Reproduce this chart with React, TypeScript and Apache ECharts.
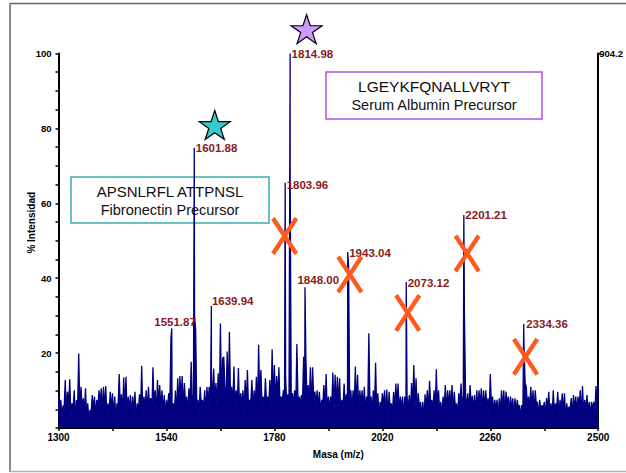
import React, { useEffect, useRef } from "react";
import * as echarts from "echarts";

// m/z range of the spectrum and the spacing of the profile samples
const MZ_MIN = 1300;
const MZ_MAX = 2500;
const SAMPLE_STEP = 5;

// Profile maxima at 1300, 1305, ... 2500 (% intensity)
const PROFILE_TOPS = [
  8.4, 7.5, 6.0, 12.8, 9.7, 13.0, 6.6, 10.1, 7.5, 19.9,
  11.0, 7.9, 10.6, 6.6, 4.8, 8.8, 8.4, 7.5, 10.1, 10.6,
  11.0, 11.2, 6.6, 9.7, 9.3, 8.4, 6.6, 14.4, 9.0, 13.5,
  13.7, 8.4, 8.8, 8.4, 9.7, 6.6, 9.0, 16.6, 8.4, 10.1,
  11.0, 8.0, 16.2, 10.1, 12.8, 11.5, 10.1, 8.8, 7.5, 9.3,
  24.0, 6.6, 10.0, 13.3, 13.9, 13.9, 12.0, 8.4, 10.6, 17.7,
  9.0, 26.0, 7.5, 11.0, 7.5, 10.1, 11.0, 11.0, 15.5, 15.9,
  12.0, 14.6, 27.9, 18.6, 11.0, 20.4, 25.7, 11.0, 16.4, 10.1,
  16.0, 9.3, 10.1, 12.8, 15.5, 7.5, 12.8, 10.1, 13.7, 22.2,
  15.5, 8.4, 13.3, 8.4, 12.8, 21.0, 16.8, 13.9, 16.2, 8.4,
  10.1, 13.7, 9.0, 69.0, 9.3, 10.1, 22.4, 8.4, 8.8, 19.0,
  19.2, 11.5, 16.2, 16.2, 9.7, 10.1, 9.7, 7.5, 11.5, 14.4,
  8.4, 8.4, 14.8, 14.2, 13.7, 13.3, 7.5, 11.9, 9.0, 43.0,
  10.1, 10.1, 16.4, 14.2, 10.1, 10.1, 11.0, 8.4, 25.3, 8.4,
  10.1, 17.4, 9.3, 7.0, 9.3, 10.1, 10.3, 9.7, 6.6, 9.7,
  11.9, 11.9, 8.4, 8.4, 8.4, 8.4, 8.8, 12.0, 16.8, 13.3,
  9.3, 7.0, 7.0, 9.0, 10.1, 12.6, 7.5, 10.1, 15.7, 10.1,
  7.0, 8.4, 11.5, 10.1, 10.1, 11.5, 9.7, 6.6, 9.3, 11.9,
  9.0, 9.3, 9.3, 11.5, 8.6, 8.8, 10.1, 10.1, 10.6, 10.1,
  10.1, 8.0, 14.4, 8.4, 7.5, 7.5, 7.9, 10.1, 10.1, 9.7,
  8.4, 8.4, 7.9, 7.9, 7.5, 6.1, 6.1, 22.0, 11.0, 8.4,
  11.0, 10.1, 10.1, 7.0, 7.5, 6.1, 7.0, 8.0, 9.7, 6.6,
  10.1, 6.6, 9.7, 7.5, 9.3, 9.3, 6.6, 5.7, 8.0, 8.8,
  8.4, 8.4, 10.1, 11.2, 7.5, 8.8, 7.0, 7.0, 7.0, 11.2,
  11.2,
];

// Profile minima at 1302.5, 1307.5, ... 2497.5 (% intensity)
const PROFILE_FLOORS = [
  4, 3, 5, 4, 6, 3, 5, 2, 6, 4,
  5, 4, 3, 2, 4, 5, 3, 5, 6, 4,
  5, 3, 4, 5, 3, 2, 6, 5, 4, 5,
  4, 5, 3, 4, 2, 4, 5, 3, 5, 4,
  6, 4, 5, 3, 6, 5, 4, 3, 5, 6,
  5, 4, 3, 6, 7, 5, 6, 4, 6, 5,
  30, 5, 4, 6, 5, 4, 6, 3, 6, 7,
  6, 5, 7, 19, 6, 7, 8, 6, 5, 6,
  5, 6, 4, 6, 5, 7, 4, 6, 5, 7,
  6, 5, 7, 6, 5, 7, 6, 8, 6, 7,
  8, 6, 8, 7, 6, 5, 7, 6, 7, 9,
  7, 6, 5, 7, 6, 5, 4, 6, 5, 4,
  5, 6, 4, 5, 6, 3, 5, 6, 6, 5,
  4, 6, 5, 4, 6, 5, 4, 5, 6, 4,
  5, 4, 3, 5, 6, 4, 2, 5, 4, 5,
  6, 4, 5, 3, 5, 5, 4, 6, 5, 4,
  5, 3, 2, 5, 4, 6, 5, 4, 5, 4,
  3, 5, 4, 6, 5, 4, 5, 3, 6, 5,
  31, 5, 4, 6, 5, 4, 5, 6, 4, 5,
  5, 3, 6, 4, 5, 3, 4, 5, 4, 6,
  4, 5, 3, 4, 5, 3, 5, 12, 6, 5,
  5, 4, 6, 3, 4, 5, 3, 5, 4, 3,
  4, 5, 3, 5, 4, 2, 4, 5, 3, 5,
  4, 5, 3, 4, 5, 4, 3, 5, 4, 6,
];

// Annotated peaks
const PEAK_MZ = [1551.87, 1601.88, 1639.94, 1803.96, 1814.98, 1848.0, 1943.04, 2073.12, 2201.21, 2334.36];
const PEAK_INTENSITY = [26.6, 74.8, 32.6, 65.5, 100, 37.6, 47.0, 39.0, 56.9, 27.8];

// Axis ticks and labels
const X_TICKS = [1300, 1420, 1540, 1660, 1780, 1900, 2020, 2140, 2260, 2380, 2500];
const X_LABELS = [1300, 1540, 1780, 2020, 2260, 2500];
const ABSOLUTE_MAX = 904.2;

// Markers: identified precursor peaks (stars) and rejected peaks (crosses)
const STAR_POINTS = [
  [1647.4, 80.9],
  [1851.6, 106.5],
];
const CROSS_POINTS = [
  [1802.8, 51.3],
  [1947.7, 41.0],
  [2076.5, 30.7],
  [2208.5, 46.6],
  [2338.4, 19.0],
];

// Peak label placement (px) relative to each peak apex
const LABEL_OFFSETS = [
  [-19, -6], [0, 0], [-1, -5], [0, 2], [0, 0], [-9, -7], [0, 1], [0, 1], [0, 0], [1, 0],
];

const STAR_COLORS = ["#33cccc", "#cc99ff"];
const NAVY = "#000080";
const PEAK_RED = "#8b1a1a";
const CROSS_RED = "#ff5a1e";
const FONT = "'Liberation Sans', Arial, sans-serif";

const STAR_PATH =
  "path://M50,0 L61.23,34.55 L97.55,34.55 L68.17,55.9 L79.39,90.45 L50,69.1 L20.61,90.45 L31.83,55.9 L2.45,34.55 L38.77,34.55 Z";
const CROSS_PATH =
  "path://M0,2.5 L3.5,0 L26,35.5 L22.5,38 Z M22.5,0 L26,2.5 L3.5,38 L0,35.5 Z";

export default function App() {
  const ref = useRef<HTMLDivElement>(null);

  useEffect(() => {
    if (!ref.current) return;
    const chart = echarts.init(ref.current, undefined, { renderer: "svg" });

    const spectrum: number[][] = [];
    PROFILE_TOPS.forEach((v, i) => spectrum.push([MZ_MIN + i * SAMPLE_STEP, v]));
    PROFILE_FLOORS.forEach((v, i) => spectrum.push([MZ_MIN + (i + 0.5) * SAMPLE_STEP, v]));
    PEAK_MZ.forEach((m, i) => spectrum.push([m, PEAK_INTENSITY[i]]));
    spectrum.sort((a, b) => a[0] - b[0]);

    const option: any = {
      animation: false,
      textStyle: { fontFamily: FONT },
      grid: { left: 58.5, right: 27, top: 53.5, bottom: 45 },
      xAxis: {
        type: "value",
        min: MZ_MIN,
        max: MZ_MAX,
        splitLine: { show: false },
        axisLine: { lineStyle: { color: "#000", width: 2 } },
        axisTick: {
          customValues: X_TICKS,
          length: 3,
          lineStyle: { color: "#000", width: 1.5 },
        },
        axisLabel: {
          customValues: X_LABELS,
          formatter: (v: number) => String(v),
          color: "#000",
          fontWeight: "bold",
          fontSize: 10,
          fontFamily: FONT,
          margin: 4,
        },
        name: "Masa (m/z)",
        nameLocation: "middle",
        nameGap: 21,
        nameMoveOverlap: false,
        nameTextStyle: {
          color: "#000",
          fontWeight: "bold",
          fontSize: 10,
          fontFamily: FONT,
          padding: [0, 0, 0, 20],
        },
      },
      yAxis: [
        {
          type: "value",
          min: 0,
          max: 100,
          interval: 20,
          position: "left",
          splitLine: { show: false },
          axisLine: { show: true, lineStyle: { color: "#000", width: 2 } },
          axisTick: { show: true, length: 3, lineStyle: { color: "#000", width: 1.5 } },
          minorTick: { show: true, splitNumber: 4, length: 3, lineStyle: { color: "#000", width: 1.5 } },
          axisLabel: {
            showMinLabel: false,
            color: "#000",
            fontWeight: "bold",
            fontSize: 9.5,
            fontFamily: FONT,
            margin: 7,
          },
          name: "% Intensidad",
          nameLocation: "middle",
          nameRotate: 90,
          nameGap: 22,
          nameMoveOverlap: false,
          nameTextStyle: {
            color: "#000",
            fontWeight: "bold",
            fontSize: 10,
            fontFamily: FONT,
            padding: [0, 0, 0, 36],
          },
        },
        {
          type: "value",
          min: 0,
          max: ABSOLUTE_MAX,
          position: "right",
          splitLine: { show: false },
          axisLine: { show: true, lineStyle: { color: "#000", width: 2 } },
          axisTick: {
            show: true,
            customValues: [ABSOLUTE_MAX],
            length: 2,
            lineStyle: { color: "#000", width: 1.5 },
          },
          axisLabel: {
            customValues: [ABSOLUTE_MAX],
            color: "#000",
            fontWeight: "bold",
            fontSize: 9.5,
            fontFamily: FONT,
            margin: 1,
          },
        },
      ],
      series: [
        {
          type: "line",
          data: spectrum,
          symbol: "none",
          silent: true,
          z: 2,
          lineStyle: { color: NAVY, width: 1.3 },
          areaStyle: { color: NAVY, opacity: 1 },
        },
        {
          type: "scatter",
          z: 4,
          symbol: "circle",
          symbolSize: 1,
          itemStyle: { color: "transparent", opacity: 1 },
          data: PEAK_MZ.map((m, i) => ({
            value: [m, PEAK_INTENSITY[i]],
            label: { offset: LABEL_OFFSETS[i] },
          })),
          label: {
            show: true,
            position: "right",
            distance: 1,
            formatter: (p: any) => p.value[0].toFixed(2),
            color: PEAK_RED,
            fontWeight: "bold",
            fontSize: 11.5,
            fontFamily: FONT,
          },
        },
        {
          type: "scatter",
          z: 5,
          clip: false,
          symbol: STAR_PATH,
          symbolSize: [31, 29],
          data: STAR_POINTS.map((p, i) => ({
            value: p,
            itemStyle: { color: STAR_COLORS[i] },
          })),
          itemStyle: { borderColor: "#000", borderWidth: 1.2, opacity: 1 },
        },
        {
          type: "scatter",
          z: 6,
          clip: false,
          symbol: CROSS_PATH,
          symbolSize: [27, 38],
          data: CROSS_POINTS,
          itemStyle: { color: CROSS_RED, opacity: 1 },
        },
      ],
      graphic: [
        {
          type: "line",
          z: 10,
          shape: { x1: 10, y1: 3.5, x2: 626, y2: 3.5 },
          style: { stroke: "#666", lineWidth: 1.5 },
        },
        {
          type: "line",
          z: 10,
          shape: { x1: 10, y1: 3.5, x2: 10, y2: 472 },
          style: { stroke: "#666", lineWidth: 1.5 },
        },
        {
          type: "line",
          z: 10,
          shape: { x1: 10, y1: 471.5, x2: 626, y2: 471.5 },
          style: { stroke: "#b5b5b5", lineWidth: 1.5 },
        },
        {
          type: "group",
          z: 20,
          children: [
            {
              type: "rect",
              shape: { x: 71, y: 177, width: 198, height: 46 },
              style: { fill: "#fff", stroke: "#3aadad", lineWidth: 1.5 },
            },
            {
              type: "text",
              x: 170,
              y: 191,
              style: {
                text: "APSNLRFL ATTPNSL",
                fontSize: 15,
                fontFamily: FONT,
                fill: "#111",
                align: "center",
                verticalAlign: "middle",
              },
            },
            {
              type: "text",
              x: 170,
              y: 209.5,
              style: {
                text: "Fibronectin Precursor",
                fontSize: 14.5,
                fontFamily: FONT,
                fill: "#111",
                align: "center",
                verticalAlign: "middle",
              },
            },
          ],
        },
        {
          type: "group",
          z: 20,
          children: [
            {
              type: "rect",
              shape: { x: 326, y: 72, width: 216, height: 47 },
              style: { fill: "#fff", stroke: "#b150e0", lineWidth: 1.5 },
            },
            {
              type: "text",
              x: 434,
              y: 86.5,
              style: {
                text: "LGEYKFQNALLVRYT",
                fontSize: 15.5,
                fontFamily: FONT,
                fill: "#111",
                align: "center",
                verticalAlign: "middle",
              },
            },
            {
              type: "text",
              x: 434,
              y: 105,
              style: {
                text: "Serum Albumin Precursor",
                fontSize: 14.5,
                fontFamily: FONT,
                fill: "#111",
                align: "center",
                verticalAlign: "middle",
              },
            },
          ],
        },
      ],
    };

    chart.setOption(option);
    return () => chart.dispose();
  }, []);

  return (
    <div
      ref={ref}
      style={{ position: "fixed", left: 0, top: 0, width: 626, height: 473, background: "#fff" }}
    />
  );
}
